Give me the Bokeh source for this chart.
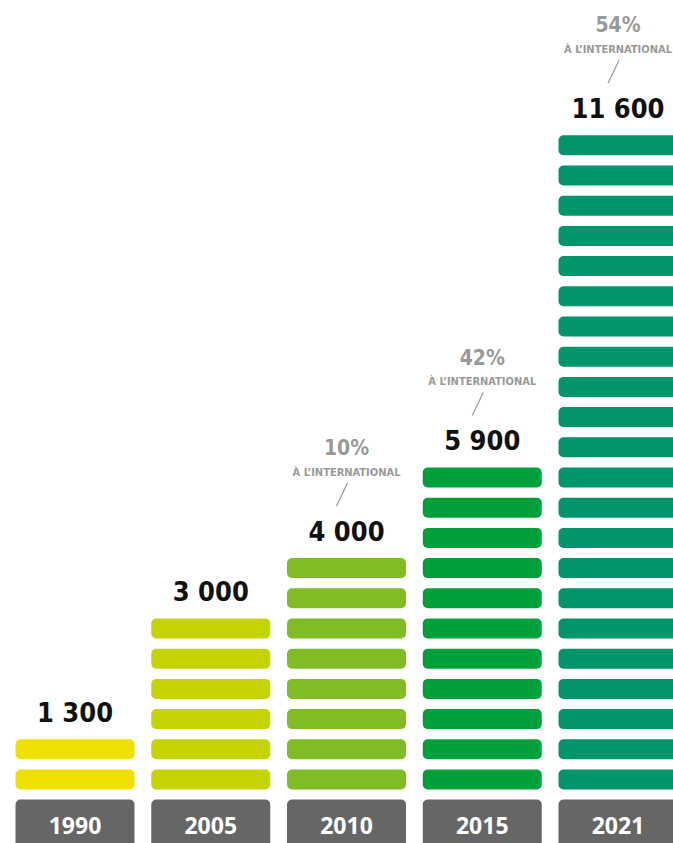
from bokeh.plotting import figure
from bokeh.models import Range1d
from bokeh.core.properties import value
from bokeh.embed import file_html
from bokeh.resources import INLINE

# ---- data ----
years = ["1990", "2005", "2010", "2015", "2021"]
totals = [1300, 3000, 4000, 5900, 11600]
pill_counts = [2, 6, 8, 11, 22]
intl_share = [None, None, 10, 42, 54]
colors = ["#EEE100", "#C5D300", "#80BC24", "#00A13A", "#00956B"]

# ---- layout constants (pixels) ----
PX_X = 135.75      # pixels per column
PX_Y = 30.2        # pixels per pill step
PILL_W = 119.0
PILL_H = 20.0
W, H = 673, 843
COND = "DejaVu Sans Condensed"

half_w = PILL_W / PX_X / 2
pill_h = PILL_H / PX_Y

p = figure(width=W, height=H, output_backend="svg", toolbar_location=None,
           x_range=Range1d(-74.5 / PX_X, -74.5 / PX_X + W / PX_X),
           y_range=Range1d(-54 / PX_Y, -54 / PX_Y + H / PX_Y),
           x_axis_type=None, y_axis_type=None, min_border=0)
p.outline_line_color = None
p.grid.visible = False
p.background_fill_color = "white"

# pills
lefts, rights, bottoms, tops, fills = [], [], [], [], []
for i, (n, c) in enumerate(zip(pill_counts, colors)):
    for k in range(n):
        lefts.append(i - half_w)
        rights.append(i + half_w)
        bottoms.append(k)
        tops.append(k + pill_h)
        fills.append(c)
p.quad(left=lefts, right=rights, bottom=bottoms, top=tops, fill_color=fills,
       line_color=None, border_radius=5)

# year boxes
xs = list(range(len(years)))
p.quad(left=[x - half_w for x in xs], right=[x + half_w for x in xs],
       bottom=[-3.0] * len(xs), top=[-10 / PX_Y] * len(xs),
       fill_color="#666666", line_color=None, border_radius=5)
p.text(x=xs, y=[-36 / PX_Y] * len(xs), text=years, text_align="center",
       text_baseline="middle", text_color="white",
       text_font=value("Open Sans"), text_font_style="bold", text_font_size="23px")

# value labels
top_y = [(n - 1) + pill_h for n in pill_counts]
labels = [f"{v:,}".replace(",", " ") for v in totals]
p.text(x=xs, y=[t + 27 / PX_Y for t in top_y], text=labels, text_align="center",
       text_baseline="middle", text_color="#111111",
       text_font=value(COND), text_font_style="bold",
       text_font_size="27px")

# international annotations
ix = [i for i, s in enumerate(intl_share) if s is not None]
it = [top_y[i] for i in ix]
p.text(x=ix, y=[t + 110 / PX_Y for t in it], text=[f"{intl_share[i]}%" for i in ix],
       text_align="center", text_baseline="middle", text_color="#999999",
       text_font=value(COND), text_font_style="bold",
       text_font_size="21px")
p.text(x=ix, y=[t + 86 / PX_Y for t in it], text=["À L\u2019INTERNATIONAL"] * len(ix),
       text_align="center", text_baseline="middle", text_color="#999999",
       text_font=value(COND), text_font_style="bold",
       text_font_size="11px")
p.segment(x0=[i + 1 / PX_X for i in ix], y0=[t + 75 / PX_Y for t in it],
          x1=[i - 10 / PX_X for i in ix], y1=[t + 52 / PX_Y for t in it],
          line_color="#999999", line_width=1.2)

open("out.html", "w").write(file_html(p, INLINE))
